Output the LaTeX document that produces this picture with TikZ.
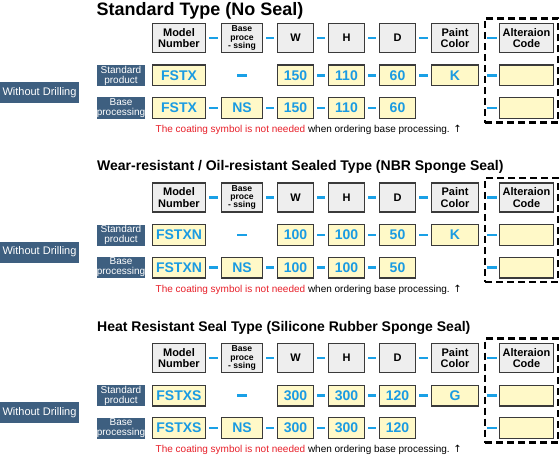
\documentclass[tikz,border=0pt]{standalone}
\usepackage{fontspec}
\setmainfont{Liberation Sans}
\newfontfamily\djv{DejaVu Sans}
\definecolor{hdrfill}{HTML}{EEEEEE}
\definecolor{valfill}{HTML}{FFF9C8}
\definecolor{bordc}{HTML}{3A3A3A}
\definecolor{valblue}{HTML}{1A9BE2}
\definecolor{dashblue}{HTML}{1AA0E6}
\definecolor{lblfill}{HTML}{3E5F80}
\definecolor{notered}{HTML}{E8202A}
\tikzset{
  hdr/.style={draw=bordc, line width=1.4pt, fill=hdrfill, inner sep=0pt, minimum height=29pt, align=center, font=\fontsize{11}{11.5}\selectfont\bfseries},
  val/.style={draw=bordc, line width=1.4pt, fill=valfill, inner sep=0pt, minimum height=20.6pt, text=valblue, font=\fontsize{14}{15}\selectfont\bfseries},
  lbl/.style={fill=lblfill, text=white, inner sep=0pt, minimum width=48pt, minimum height=21pt, align=center, font=\fontsize{10}{10}\selectfont},
  drl/.style={fill=lblfill, text=white, inner sep=0pt, minimum width=79pt, minimum height=21pt, font=\fontsize{11}{12}\selectfont},
  dsh/.style={draw=dashblue, line width=2.3pt, shorten <=3pt, shorten >=3pt},
  framebox/.style={draw=black, line width=2.2pt, dash pattern=on 7pt off 4pt, inner sep=0pt, minimum width=73pt},
  ttl/.style={anchor=west, inner sep=0pt, font=\fontsize{14}{15}\selectfont\bfseries},
  note/.style={anchor=west, inner sep=0pt, font=\fontsize{10}{11}\selectfont},
}
% #1 prefix, #2 y offset, #3 model, #4 W, #5 H, #6 D, #7 paint
\newcommand\mysec[7]{%
  % dashed frame
  \node[framebox, minimum height=104pt] (#1fr) at (521.5,{70.5+#2}) {};
  % header row
  \node[hdr, minimum width=52.6pt] (#1m) at (179,{38+#2}) {Model\\Number};
  \node[hdr, minimum width=40.6pt, font=\fontsize{8.6}{8.4}\selectfont\bfseries] (#1b) at (242,{38+#2}) {Base\\proce\\- ssing};
  \node[hdr, minimum width=35.6pt] (#1w) at (295.5,{38+#2}) {W};
  \node[hdr, minimum width=35.6pt] (#1h) at (346.5,{38+#2}) {H};
  \node[hdr, minimum width=35.6pt] (#1d) at (397.5,{38+#2}) {D};
  \node[hdr, minimum width=46.6pt] (#1p) at (455,{38+#2}) {Paint\\Color};
  \node[hdr, minimum width=53.6pt] (#1a) at (526.5,{38+#2}) {Alteraion\\Code};
  \draw[dsh] (#1m) -- (#1b);
  \draw[dsh] (#1b) -- (#1w);
  \draw[dsh] (#1w) -- (#1h);
  \draw[dsh] (#1h) -- (#1d);
  \draw[dsh] (#1d) -- (#1p);
  \draw[dsh, shorten <=8pt, shorten >=2pt] (#1p) -- (#1a);
  % standard product row
  \node[lbl] (#1ls) at (121,{75.5+#2}) {Standard\\product};
  \node[val, minimum width=52.6pt] (#1sm) at (179,{75.5+#2}) {#3};
  \node[val, minimum width=35.6pt] (#1sw) at (295.5,{75.5+#2}) {#4};
  \node[val, minimum width=35.6pt] (#1sh) at (346.5,{75.5+#2}) {#5};
  \node[val, minimum width=35.6pt] (#1sd) at (397.5,{75.5+#2}) {#6};
  \node[val, minimum width=46.6pt] (#1sp) at (455,{75.5+#2}) {#7};
  \node[val, minimum width=53.6pt] (#1sa) at (526.5,{75.5+#2}) {};
  \draw[dsh, shorten <=31pt, shorten >=30pt] (#1sm) -- (#1sw);
  \draw[dsh] (#1sw) -- (#1sh);
  \draw[dsh] (#1sh) -- (#1sd);
  \draw[dsh] (#1sd) -- (#1sp);
  \draw[dsh, shorten <=8pt, shorten >=2pt] (#1sp) -- (#1sa);
  % base processing row
  \node[lbl] (#1lb) at (121,{108+#2}) {Base\\processing};
  \node[val, minimum width=52.6pt] (#1bm) at (179,{108+#2}) {#3};
  \node[val, minimum width=40.6pt] (#1bn) at (242,{108+#2}) {NS};
  \node[val, minimum width=35.6pt] (#1bw) at (295.5,{108+#2}) {#4};
  \node[val, minimum width=35.6pt] (#1bh) at (346.5,{108+#2}) {#5};
  \node[val, minimum width=35.6pt] (#1bd) at (397.5,{108+#2}) {#6};
  \node[val, minimum width=53.6pt] (#1ba) at (526.5,{108+#2}) {};
  \draw[dsh] (#1bm) -- (#1bn);
  \draw[dsh] (#1bn) -- (#1bw);
  \draw[dsh] (#1bw) -- (#1bh);
  \draw[dsh] (#1bh) -- (#1bd);
  \draw[dsh, shorten <=71pt, shorten >=2pt] (#1bd) -- (#1ba);
  % left label
  \node[drl] (#1wd) at (39.5,{92.5+#2}) {Without Drilling};
  % note
  \node[note] (#1nt) at (155.5,{130+#2}) {\textcolor{notered}{The coating symbol is not needed} when ordering base processing. {\djv ↑}};
}
\begin{document}
\begin{tikzpicture}[x=1pt,y=-1pt]
\useasboundingbox[fill=white] (0,0) rectangle (560,460);
\node[ttl, font=\fontsize{18}{19}\selectfont\bfseries] (t1) at (96.5,10.5) {Standard Type (No Seal)};
\node[ttl] (t2) at (97,167) {Wear-resistant / Oil-resistant Sealed Type (NBR Sponge Seal)};
\node[ttl] (t3) at (97,327.5) {Heat Resistant Seal Type (Silicone Rubber Sponge Seal)};
\mysec{a}{0}{FSTX}{150}{110}{60}{K}
\mysec{b}{159.5}{FSTXN}{100}{100}{50}{K}
\mysec{c}{320}{FSTXS}{300}{300}{120}{G}
\end{tikzpicture}
\end{document}
